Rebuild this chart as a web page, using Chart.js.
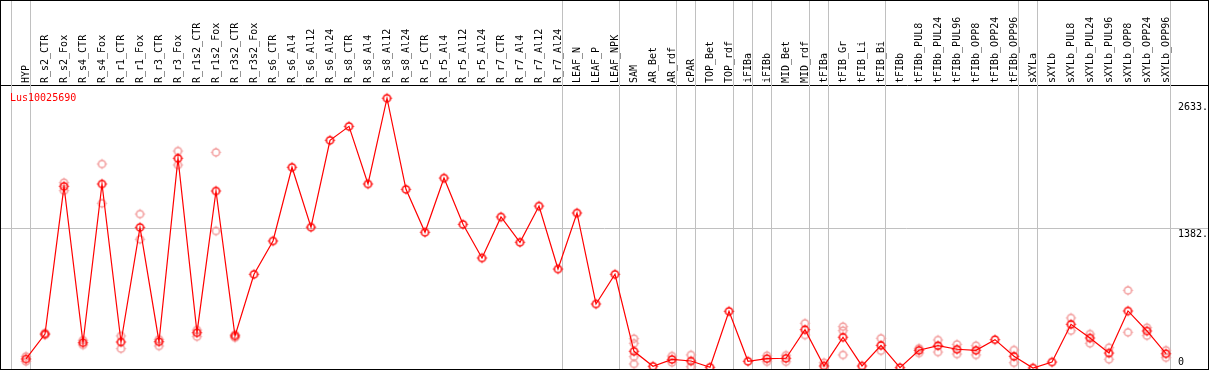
<!DOCTYPE html>
<html>
<head>
<meta charset="utf-8">
<script src="https://cdn.jsdelivr.net/npm/chart.js@4"></script>
<style>
  body { margin: 0; background: #fff; }
  canvas { display: block; }
</style>
</head>
<body>
<canvas id="chart" width="1209" height="370"></canvas>
<script>
// Gene shown in the chart
const geneName = 'Lus10025690';

// Samples along the top axis
const categories = [
    'HYP', 'R_s2_CTR', 'R_s2_Fox', 'R_s4_CTR', 'R_s4_Fox', 'R_r1_CTR', 'R_r1_Fox',
    'R_r3_CTR', 'R_r3_Fox', 'R_r1s2_CTR', 'R_r1s2_Fox', 'R_r3s2_CTR', 'R_r3s2_Fox',
    'R_s6_CTR', 'R_s6_Al4', 'R_s6_Al12', 'R_s6_Al24', 'R_s8_CTR', 'R_s8_Al4', 'R_s8_Al12',
    'R_s8_Al24', 'R_r5_CTR', 'R_r5_Al4', 'R_r5_Al12', 'R_r5_Al24', 'R_r7_CTR', 'R_r7_Al4',
    'R_r7_Al12', 'R_r7_Al24', 'LEAF_N', 'LEAF_P', 'LEAF_NPK', 'SAM', 'AR_Bet', 'AR_rdf',
    'cPAR', 'TOP_Bet', 'TOP_rdf', 'iFIBa', 'iFIBb', 'MID_Bet', 'MID_rdf', 'tFIBa',
    'tFIB_Gr', 'tFIB_Li', 'tFIB_Bi', 'tFIBb', 'tFIBb_PUL8', 'tFIBb_PUL24', 'tFIBb_PUL96',
    'tFIBb_OPP8', 'tFIBb_OPP24', 'tFIBb_OPP96', 'sXYLa', 'sXYLb', 'sXYLb_PUL8',
    'sXYLb_PUL24', 'sXYLb_PUL96', 'sXYLb_OPP8', 'sXYLb_OPP24', 'sXYLb_OPP96'
];

// Mean expression (red line)
const meanValues = [
    89, 336, 1797, 250, 1820, 257, 1391, 260, 2074, 349, 1751, 317, 927,
    1256, 1985, 1393, 2252, 2390, 1820, 2668, 1767, 1342, 1879, 1421, 1088,
    1494, 1243, 1602, 979, 1533, 633, 927, 165, 17, 85, 69, 7, 561, 66, 92,
    96, 379, 20, 304, 20, 224, 3, 175, 221, 185, 175, 280, 116, 0, 59, 432,
    297, 148, 564, 366, 141
];

// Individual replicates (pink circles), one list per sample
const replicateValues = [
    [115, 65], [345, 328], [1833, 1754], [275, 228], [2018, 1629], [317, 191], [1523, 1273],
    [284, 218], [2146, 2008], [376, 310], [2133, 1355], [330, 300], [],
    [], [], [], [], [], [], [],
    [], [], [], [], [], [], [],
    [], [], [], [], [], [290, 244, 112, 40], [], [118, 55],
    [129, 13], [], [], [], [122, 62], [126, 62], [442, 326], [52],
    [409, 369, 129], [], [294, 171], [], [195, 148], [277, 158], [234, 138],
    [221, 129], [], [178, 52], [], [], [495, 369],
    [336, 244], [201, 86], [768, 353], [399, 320], [175, 102]
];

// Right-hand value labels
const yTickValues = [0, 1382, 2633];
const yTickLabels = ['0', '1382.', '2633.'];

// Group separators come right after these sample indexes (-1 = before the first)
const separatorAfter = [-1, 0, 28, 31, 34, 35, 37, 38, 39, 41, 42, 45, 52, 53, 60];

const monoFont = 'DejaVu Sans Mono';

// Build point lists from the arrays above
const meanPoints = meanValues.map((v, i) => ({ x: i, y: v }));
const replicatePoints = [];
replicateValues.forEach((reps, i) => {
    reps.forEach(v => replicatePoints.push({ x: i, y: v }));
});

// Small circle marker with short ticks on four sides
function makeMarker(color) {
    const c = document.createElement('canvas');
    c.width = 13;
    c.height = 13;
    const g = c.getContext('2d');
    g.strokeStyle = color;
    g.lineWidth = 1.5;
    g.beginPath();
    g.arc(6.5, 6.5, 3.6, 0, Math.PI * 2);
    g.stroke();
    g.lineWidth = 1;
    g.beginPath();
    g.moveTo(6.5, 1.5); g.lineTo(6.5, 3);
    g.moveTo(6.5, 10); g.lineTo(6.5, 11.5);
    g.moveTo(1.5, 6.5); g.lineTo(3, 6.5);
    g.moveTo(10, 6.5); g.lineTo(11.5, 6.5);
    g.stroke();
    return c;
}
const meanMarker = makeMarker('#ff0000');
const repMarker = makeMarker('#f29a9a');

// Separators, frame, gene name and value labels
const decorPlugin = {
    id: 'decor',
    beforeDatasetsDraw(chart) {
        const ctx = chart.ctx;
        const xScale = chart.scales.x;
        ctx.save();
        ctx.strokeStyle = '#c0c0c0';
        ctx.lineWidth = 1;
        separatorAfter.forEach(i => {
            const px = Math.round(xScale.getPixelForValue(i + 0.24) - 0.5) + 0.5;
            ctx.beginPath();
            ctx.moveTo(px, 0);
            ctx.lineTo(px, chart.height);
            ctx.stroke();
        });
        ctx.restore();
    },
    afterDraw(chart) {
        const ctx = chart.ctx;
        const yScale = chart.scales.y;
        ctx.save();
        ctx.strokeStyle = '#000';
        ctx.lineWidth = 1;
        ctx.strokeRect(0.5, 0.5, chart.width - 1, chart.height - 1);

        ctx.font = '10px "' + monoFont + '"';
        ctx.textBaseline = 'alphabetic';
        ctx.textAlign = 'left';
        ctx.fillStyle = '#ff0000';
        ctx.fillText(geneName, 10, 101);

        ctx.fillStyle = '#000';
        yTickValues.forEach((v, k) => {
            const py = yScale.getPixelForValue(v);
            const ty = v === 0 ? py - 3 : py + 8.5;
            ctx.fillText(yTickLabels[k], 1178, ty);
        });
        ctx.restore();
    }
};

function noPadding(scale) {
    scale.paddingLeft = 0;
    scale.paddingRight = 0;
    scale.paddingTop = 0;
    scale.paddingBottom = 0;
}

new Chart(document.getElementById('chart'), {
    type: 'line',
    data: {
        datasets: [
            {
                data: meanPoints,
                borderColor: '#ff0000',
                borderWidth: 1.2,
                pointStyle: meanMarker,
                clip: false
            },
            {
                data: replicatePoints,
                showLine: false,
                pointStyle: repMarker,
                clip: false
            }
        ]
    },
    options: {
        responsive: false,
        animation: false,
        events: [],
        layout: { padding: 0, autoPadding: false },
        plugins: {
            legend: { display: false },
            tooltip: { enabled: false },
            title: { display: false }
        },
        scales: {
            x: {
                type: 'linear',
                position: 'top',
                min: -26 / 19,
                max: (1209 - 26) / 19,
                afterBuildTicks: scale => {
                    scale.ticks = categories.map((c, i) => ({ value: i }));
                },
                afterFit: scale => { scale.height = 85; noPadding(scale); },
                grid: { display: false, drawTicks: false },
                border: { display: true, color: '#000', width: 1 },
                ticks: {
                    autoSkip: false,
                    minRotation: 90,
                    maxRotation: 90,
                    padding: 2,
                    labelOffset: 12,
                    color: '#000',
                    font: { family: monoFont, size: 10 },
                    callback: value => categories[value]
                }
            },
            y: {
                type: 'linear',
                position: 'right',
                min: -20,
                max: 2799,
                afterBuildTicks: scale => {
                    scale.ticks = yTickValues.map(v => ({ value: v }));
                },
                afterFit: scale => { scale.width = 0; noPadding(scale); },
                grid: {
                    drawTicks: false,
                    lineWidth: 1,
                    color: ctx => (ctx.tick && ctx.tick.value === 1382) ? '#c0c0c0' : 'rgba(0,0,0,0)'
                },
                border: { display: false },
                ticks: { display: false }
            }
        }
    },
    plugins: [decorPlugin]
});
</script>
</body>
</html>
